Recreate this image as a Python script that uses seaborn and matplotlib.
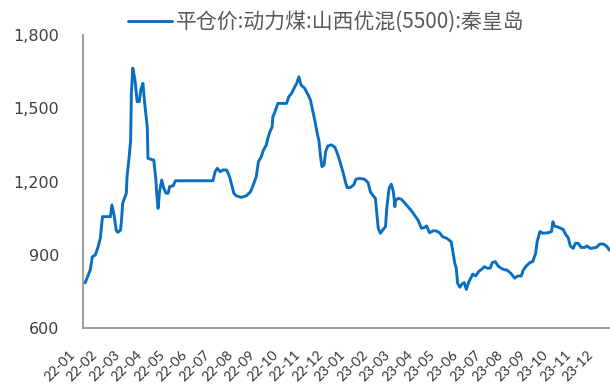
import numpy as np
import pandas as pd
import matplotlib
matplotlib.use("Agg")
import matplotlib.pyplot as plt
import matplotlib.dates as mdates
from matplotlib.transforms import ScaledTranslation
from matplotlib.ticker import FuncFormatter
import seaborn as sns

# 平仓价:动力煤:山西优混(5500):秦皇岛 (元/吨)
dates = [
    "2022-01-04", "2022-01-11", "2022-01-14", "2022-01-18", "2022-01-22", "2022-01-25",
    "2022-01-28", "2022-02-03", "2022-02-08", "2022-02-10", "2022-02-13", "2022-02-16",
    "2022-02-18", "2022-02-22", "2022-02-23", "2022-02-25", "2022-03-02", "2022-03-03",
    "2022-03-06", "2022-03-08", "2022-03-09", "2022-03-11", "2022-03-14", "2022-03-17",
    "2022-03-20", "2022-03-22", "2022-03-25", "2022-03-27", "2022-03-31", "2022-04-01",
    "2022-04-06", "2022-04-09", "2022-04-12", "2022-04-13", "2022-04-15", "2022-04-17",
    "2022-04-20", "2022-04-23", "2022-04-26", "2022-04-29", "2022-05-01", "2022-05-06",
    "2022-05-09", "2022-06-30", "2022-07-03", "2022-07-06", "2022-07-10", "2022-07-14",
    "2022-07-19", "2022-07-23", "2022-07-26", "2022-07-29", "2022-08-01", "2022-08-08",
    "2022-08-15", "2022-08-21", "2022-08-24", "2022-08-29", "2022-09-01", "2022-09-05",
    "2022-09-08", "2022-09-12", "2022-09-14", "2022-09-17", "2022-09-20", "2022-09-21",
    "2022-09-24", "2022-09-28", "2022-10-10", "2022-10-13", "2022-10-17", "2022-10-20",
    "2022-10-24", "2022-10-27", "2022-10-30", "2022-11-04", "2022-11-09", "2022-11-12",
    "2022-11-15", "2022-11-18", "2022-11-21", "2022-11-24", "2022-11-26", "2022-11-28",
    "2022-12-01", "2022-12-03", "2022-12-06", "2022-12-11", "2022-12-16", "2022-12-20",
    "2022-12-23", "2022-12-27", "2022-12-31", "2023-01-02", "2023-01-06", "2023-01-11",
    "2023-01-14", "2023-01-19", "2023-01-26", "2023-01-31", "2023-02-03", "2023-02-06",
    "2023-02-10", "2023-02-12", "2023-02-14", "2023-02-17", "2023-02-20", "2023-02-24",
    "2023-02-26", "2023-03-01", "2023-03-04", "2023-03-07", "2023-03-09", "2023-03-10",
    "2023-03-14", "2023-03-18", "2023-03-23", "2023-03-27", "2023-04-01", "2023-04-05",
    "2023-04-10", "2023-04-15", "2023-04-19", "2023-04-22", "2023-04-26", "2023-05-01",
    "2023-05-05", "2023-05-10", "2023-05-14", "2023-05-20", "2023-05-26", "2023-05-28",
    "2023-05-31", "2023-06-02", "2023-06-04", "2023-06-07", "2023-06-10", "2023-06-13",
    "2023-06-16", "2023-06-19", "2023-06-22", "2023-06-25", "2023-06-29", "2023-07-03",
    "2023-07-07", "2023-07-11", "2023-07-15", "2023-07-19", "2023-07-22", "2023-07-26",
    "2023-07-30", "2023-08-03", "2023-08-08", "2023-08-11", "2023-08-16", "2023-08-22",
    "2023-08-26", "2023-08-31", "2023-09-03", "2023-09-07", "2023-09-12", "2023-09-16",
    "2023-09-20", "2023-09-22", "2023-09-26", "2023-09-30", "2023-10-07", "2023-10-12",
    "2023-10-14", "2023-10-16", "2023-10-22", "2023-10-28", "2023-11-01", "2023-11-04",
    "2023-11-07", "2023-11-11", "2023-11-14", "2023-11-18", "2023-11-22", "2023-11-27",
    "2023-11-30", "2023-12-05", "2023-12-13", "2023-12-18", "2023-12-23", "2023-12-28",
    "2023-12-31",
]
prices = [
    785, 837, 892, 899, 933, 968,
    1056, 1056, 1056, 1104, 1063, 1001,
    992, 1001, 1029, 1111, 1152, 1220,
    1302, 1370, 1561, 1664, 1616, 1527,
    1527, 1575, 1602, 1534, 1424, 1295,
    1290, 1288, 1206, 1152, 1090, 1158,
    1206, 1172, 1152, 1152, 1179, 1183,
    1203, 1203, 1240, 1254, 1240, 1247,
    1247, 1220, 1186, 1152, 1142, 1135,
    1141, 1158, 1179, 1220, 1281, 1302,
    1329, 1350, 1377, 1404, 1424, 1465,
    1486, 1520, 1520, 1547, 1561, 1580,
    1602, 1629, 1595, 1582, 1554, 1534,
    1493, 1452, 1404, 1363, 1302, 1261,
    1268, 1322, 1345, 1350, 1340, 1309,
    1281, 1240, 1193, 1175, 1175, 1186,
    1209, 1213, 1209, 1195, 1158, 1145,
    1131, 1070, 1008, 988, 1001, 1015,
    1097, 1172, 1189, 1158, 1097, 1124,
    1131, 1127, 1111, 1097, 1080, 1063,
    1042, 1008, 1012, 1018, 990, 998,
    998, 990, 974, 967, 953, 919,
    865, 845, 783, 767, 780, 786,
    758, 786, 804, 821, 813, 831,
    840, 851, 845, 845, 868, 872,
    854, 845, 838, 838, 826, 804,
    813, 813, 838, 854, 868, 872,
    906, 953, 995, 988, 990, 995,
    1035, 1018, 1012, 1004, 981, 971,
    936, 926, 947, 947, 930, 930,
    936, 926, 930, 944, 944, 933,
    919,
]
series_name = "平仓价:动力煤:山西优混(5500):秦皇岛"
month_labels = [f"{y % 100:02d}-{m:02d}" for y in (2022, 2023) for m in range(1, 13)]
y_ticks = [600, 900, 1200, 1500, 1800]

df = pd.DataFrame({"date": pd.to_datetime(dates), "price": prices})

sns.set_style("white")
plt.rcParams["font.family"] = ["DejaVu Sans", "Noto Sans CJK SC"]

LINE = "#0a6fc2"
AXIS = "#8c8c8c"
TEXT = "#404040"

fig = plt.figure(figsize=(6.10, 3.87), dpi=100)
ax = fig.add_axes([83 / 610, 59 / 387, 527 / 610, 293 / 387])

sns.lineplot(data=df, x="date", y="price", ax=ax, color=LINE, linewidth=2.1,
             label=series_name, legend=False)

x0 = mdates.date2num(pd.Timestamp("2022-01-01"))
x1 = mdates.date2num(pd.Timestamp("2024-01-01"))
ax.set_xlim(x0, x1)
ax.set_ylim(600, 1800)
ax.set_xlabel("")
ax.set_ylabel("")

# y axis
ax.set_yticks(y_ticks)
ax.yaxis.set_major_formatter(FuncFormatter(lambda v, p: f"{v:,.0f}"))
ax.tick_params(axis="y", direction="in", length=6, width=1, color=AXIS,
               labelsize=11.5, labelcolor=TEXT, pad=17)

# x axis: tick marks at month starts, labels spread evenly along the axis
month_starts = mdates.date2num(pd.date_range("2022-01-01", "2023-12-01", freq="MS"))
ax.set_xticks(month_starts, minor=True)
ax.set_xticks(x0 + np.linspace(0, 718, len(month_labels)))
ax.set_xticklabels(month_labels, rotation=45, ha="right", va="top",
                   fontfamily="Lato")
ax.tick_params(axis="x", which="major", length=0, labelsize=10, labelcolor="#333333",
               pad=14.5)
ax.tick_params(axis="x", which="minor", direction="in", length=5, width=1, color=AXIS)
shift = ScaledTranslation(-6 / 100, 0, fig.dpi_scale_trans)
for lab in ax.get_xticklabels():
    lab.set_transform(lab.get_transform() + shift)

for side in ("top", "right"):
    ax.spines[side].set_visible(False)
for side in ("left", "bottom"):
    ax.spines[side].set_color(AXIS)
    ax.spines[side].set_linewidth(1.2)
ax.grid(False)

handles, labels = ax.get_legend_handles_labels()
leg = fig.legend(handles, labels, loc="center left",
                 bbox_to_anchor=(128 / 610, 1 - 22 / 387),
                 frameon=False, borderpad=0, borderaxespad=0,
                 handlelength=2.1, handletextpad=0.22,
                 prop={"family": ["Noto Sans CJK SC", "DejaVu Sans"], "size": 15})
for t in leg.get_texts():
    t.set_color("#595959")

fig.savefig("out.png", dpi=100)
